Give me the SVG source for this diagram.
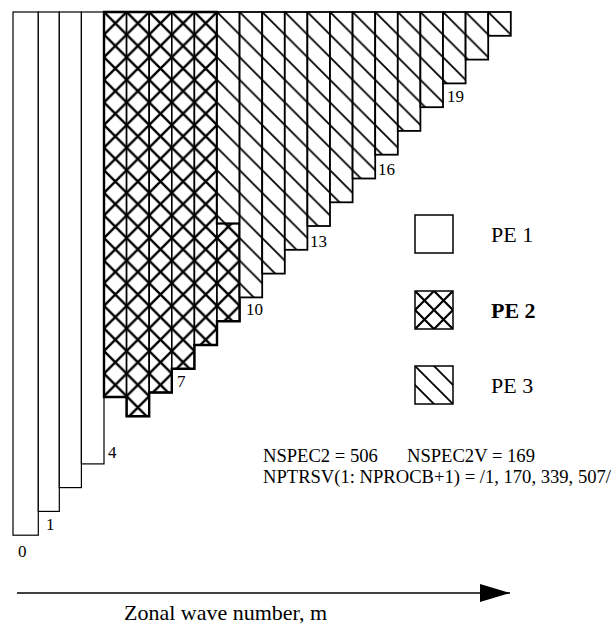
<svg xmlns="http://www.w3.org/2000/svg" width="614" height="627" viewBox="0 0 614 627">
<style>
text{font-family:"Liberation Serif","Times New Roman",serif;fill:#000}
.num{font-size:17px}
.leg{font-size:22px}
.info{font-size:18.6px}
.pe1{fill:#fff;stroke:#000;stroke-width:1.2}
.pe2{fill:url(#cross);stroke:#000;stroke-width:1.6}
.pe3{fill:url(#hatch);stroke:#000;stroke-width:1.8}
.edge{fill:none;stroke:#000;stroke-width:2.4;stroke-linejoin:miter}
</style>
<defs>
<pattern id="cross" patternUnits="userSpaceOnUse" x="104" y="12" width="22.6" height="22.6">
<rect width="22.6" height="22.6" fill="#fff"/>
<path d="M-3,-3 L25.6,25.6 M25.6,-3 L-3,25.6" stroke="#000" stroke-width="2.4"/>
</pattern>
<pattern id="hatch" patternUnits="userSpaceOnUse" x="217" y="12" width="22.6" height="22.6">
<rect width="22.6" height="22.6" fill="#fff"/>
<path d="M-3,-3 L25.6,25.6 M19.6,-3 L25.6,3 M-3,19.6 L3,25.6" stroke="#000" stroke-width="1.8"/>
</pattern>
<pattern id="cross2" patternUnits="userSpaceOnUse" x="415" y="291" width="19" height="19">
<rect width="19" height="19" fill="#fff"/>
<path d="M-3,-3 L22,22 M22,-3 L-3,22" stroke="#000" stroke-width="2.2"/>
</pattern>
<pattern id="hatch2" patternUnits="userSpaceOnUse" x="415" y="366" width="19" height="19">
<rect width="19" height="19" fill="#fff"/>
<path d="M-3,-3 L22,22 M16,-3 L22,3 M-3,16 L3,22" stroke="#000" stroke-width="1.8"/>
</pattern>
<marker id="arrow" markerUnits="userSpaceOnUse" markerWidth="32" markerHeight="20" refX="30" refY="9" orient="auto">
<path d="M0,0 L30,9 L0,18 Z" fill="#000"/>
</marker>
</defs>

<g id="pe1-columns">
<rect class="pe1" x="13" y="12" width="25.3" height="523.2"/>
<rect class="pe1" x="38.3" y="12" width="21" height="499.4"/>
<rect class="pe1" x="59.3" y="12" width="22.1" height="475.6"/>
<rect class="pe1" x="81.4" y="12" width="22.6" height="451.9"/>
</g>

<g id="pe2-columns">
<rect class="pe2" x="104" y="12" width="22.6" height="385"/>
<rect class="pe2" x="126.6" y="12" width="22.6" height="404.3"/>
<rect class="pe2" x="149.2" y="12" width="22.6" height="380.5"/>
<rect class="pe2" x="171.8" y="12" width="22.6" height="356.8"/>
<rect class="pe2" x="194.4" y="12" width="22.6" height="333"/>
<rect class="pe2" x="217" y="223.3" width="22.6" height="97.9"/>
<path class="edge" d="M104,12 H217 V223.3 H239.6 V321.2 H217 V345 H194.4 V368.8 H171.8 V392.5 H149.2 V416.3 H126.6 V397 H104 Z"/>
</g>

<g id="pe3-columns">
<rect class="pe3" x="217" y="12" width="22.6" height="211.3"/>
<rect class="pe3" x="239.6" y="12" width="22.6" height="285.4"/>
<rect class="pe3" x="262.2" y="12" width="22.6" height="261.6"/>
<rect class="pe3" x="284.8" y="12" width="22.6" height="237.8"/>
<rect class="pe3" x="307.4" y="12" width="22.6" height="214"/>
<rect class="pe3" x="330" y="12" width="22.6" height="190.3"/>
<rect class="pe3" x="352.6" y="12" width="22.6" height="166.5"/>
<rect class="pe3" x="375.2" y="12" width="22.6" height="142.7"/>
<rect class="pe3" x="397.8" y="12" width="22.6" height="118.9"/>
<rect class="pe3" x="420.4" y="12" width="22.6" height="95.2"/>
<rect class="pe3" x="443" y="12" width="22.6" height="71.4"/>
<rect class="pe3" x="465.6" y="12" width="22.6" height="47.6"/>
<rect class="pe3" x="488.2" y="12" width="22.6" height="23.8"/>
</g>

<g id="m-labels">
<text class="num" x="18" y="557">0</text>
<text class="num" x="46" y="530">1</text>
<text class="num" x="108" y="458">4</text>
<text class="num" x="177" y="387">7</text>
<text class="num" x="246" y="315">10</text>
<text class="num" x="310" y="247">13</text>
<text class="num" x="378" y="175">16</text>
<text class="num" x="447" y="102">19</text>
</g>

<g id="legend-pe1">
<rect x="415" y="215" width="38" height="38" fill="#fff" stroke="#000" stroke-width="1.5"/>
<text class="leg" x="491" y="242">PE 1</text>
</g>
<g id="legend-pe2">
<rect x="415" y="291" width="38" height="38" fill="url(#cross2)" stroke="#000" stroke-width="1.5"/>
<text class="leg" x="491" y="318" font-weight="bold">PE 2</text>
</g>
<g id="legend-pe3">
<rect x="415" y="366" width="38" height="38" fill="url(#hatch2)" stroke="#000" stroke-width="1.5"/>
<text class="leg" x="491" y="393">PE 3</text>
</g>

<g id="info">
<text class="info" x="263" y="462">NSPEC2 = 506</text>
<text class="info" x="407" y="462">NSPEC2V = 169</text>
<text class="info" x="263" y="483">NPTRSV(1: NPROCB+1) = /1, 170, 339, 507/</text>
</g>

<g id="connectors">
<line x1="17" y1="593" x2="510" y2="593" stroke="#000" stroke-width="1.5" marker-end="url(#arrow)"/>
</g>
<g id="axis-label">
<text class="leg" x="124" y="620">Zonal wave number, m</text>
</g>
</svg>
